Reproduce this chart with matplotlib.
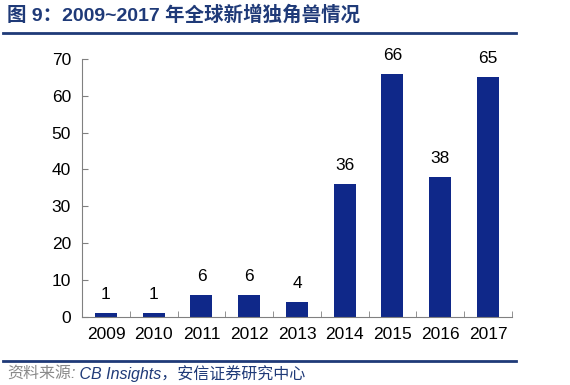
import matplotlib.pyplot as plt
import numpy as np

plt.rcParams['font.family'] = ['Liberation Sans', 'Noto Sans CJK SC', 'DejaVu Sans']

years = ['2009', '2010', '2011', '2012', '2013', '2014', '2015', '2016', '2017']
counts = [1, 1, 6, 6, 4, 36, 66, 38, 65]

bar_color = '#0F2889'
navy = '#1F3A78'

fig = plt.figure(figsize=(5.7, 3.85), dpi=100)
ax = fig.add_axes([0.144, 0.177, 0.754, 0.670])

x = np.arange(len(years))
ax.bar(x, counts, width=0.46, color=bar_color, zorder=2)
for xi, v in zip(x, counts):
    ax.text(xi, v + 3, str(v), ha='center', va='bottom', fontsize=12.5, color='black')

ax.set_xlim(-0.5, len(years) - 0.5)
ax.set_ylim(0, 70)
ax.set_yticks(range(0, 71, 10))
ax.set_xticks(x)
ax.set_xticklabels(years)
# 分隔刻度放在柱子之间
ax.set_xticks(np.arange(-0.5, len(years), 1), minor=True)
ax.tick_params(axis='x', which='major', length=0, pad=7, labelsize=12.5)
ax.tick_params(axis='x', which='minor', length=4, direction='in', color='#808080')
ax.tick_params(axis='y', length=4, direction='in', color='#808080', labelsize=12.5, pad=8)

for s in ['top', 'right']:
    ax.spines[s].set_visible(False)
for s in ['left', 'bottom']:
    ax.spines[s].set_color('#808080')

# 标题和来源
fig.text(0.012, 0.962, '图 9：2009~2017 年全球新增独角兽情况', fontsize=14, fontweight='bold',
         color=navy, va='center', ha='left')
fig.add_artist(plt.Line2D([0.006, 0.905], [0.914, 0.914], color=navy, lw=2))
fig.add_artist(plt.Line2D([0.006, 0.905], [0.062, 0.062], color=navy, lw=2))
src1 = fig.text(0.012, 0.030, '资料来源:', fontsize=11.5, style='italic',
                color='#8A8A8A', va='center', ha='left')
fig.add_artist(plt.Annotation(' CB Insights，安信证券研究中心', xy=(1, 0.5), xycoords=src1,
                              va='center', ha='left', fontsize=11.5, style='italic', color=navy))

fig.savefig('out.png', dpi=100)
